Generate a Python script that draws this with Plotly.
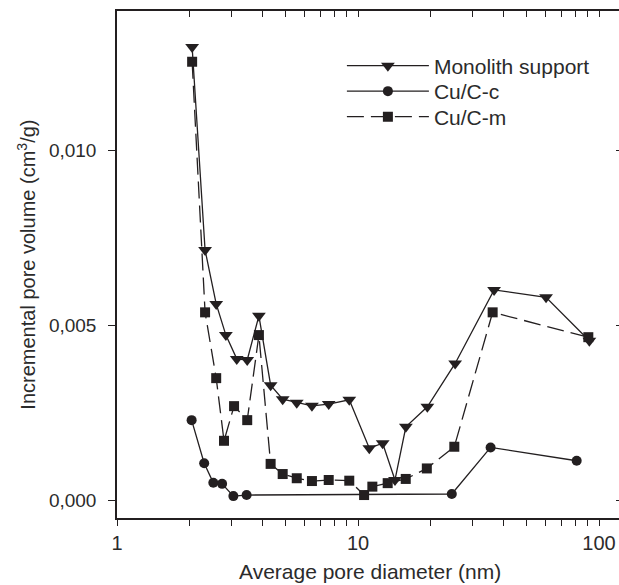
import plotly.graph_objects as go

# Monolith support
mono_x = [2.05, 2.32, 2.58, 2.83, 3.14, 3.47, 3.88, 4.34, 4.87, 5.57, 6.44, 7.56, 9.2,
          11.14, 12.66, 14.24, 15.8, 19.4, 25.3, 36.7, 60.3, 91.2]
mono_y = [0.01295, 0.00715, 0.00561, 0.00472, 0.00404, 0.00401, 0.00527, 0.00329, 0.00289,
          0.00279, 0.00270, 0.00275, 0.00287, 0.00149, 0.00163, 0.00058, 0.00210, 0.00267,
          0.00391, 0.00601, 0.00580, 0.00456]

# Cu/C-c
cuc_x = [2.04, 2.30, 2.51, 2.73, 3.04, 3.45, 24.5, 35.5, 80.8]
cuc_y = [0.00229, 0.00106, 0.00050, 0.00047, 0.00012, 0.00015, 0.00018, 0.00151, 0.00113]

# Cu/C-m
cum_x = [2.05, 2.32, 2.58, 2.78, 3.06, 3.47, 3.88, 4.34, 4.87, 5.57, 6.44, 7.56, 9.2,
         10.6, 11.47, 13.28, 15.78, 19.3, 25.1, 36.2, 90.3]
cum_y = [0.01253, 0.00537, 0.00349, 0.00170, 0.00269, 0.00229, 0.00472, 0.00104, 0.00075,
         0.00063, 0.00055, 0.00058, 0.00056, 0.00015, 0.00039, 0.00049, 0.00061, 0.00091,
         0.00153, 0.00537, 0.00466]

x_major = [1, 10, 100]
x_labels = ["1", "10", "100"]
x_minor = [2, 3, 4, 5, 6, 7, 8, 9, 20, 30, 40, 50, 60, 70, 80, 90]
y_tickvals = [0.0, 0.005, 0.010]

INK = "#231f20"
TXT = "#2b2b2b"
FONT = "Liberation Sans"

fig = go.Figure()
fig.add_trace(go.Scatter(x=mono_x, y=mono_y, name="Monolith support", mode="lines+markers",
                         line=dict(color=INK, width=1.3), legend="legend",
                         marker=dict(symbol="triangle-down", size=12, color=INK)))
fig.add_trace(go.Scatter(x=cuc_x, y=cuc_y, name="Cu/C-c", mode="lines+markers",
                         line=dict(color=INK, width=1.3), legend="legend2",
                         marker=dict(symbol="circle", size=10, color=INK)))
fig.add_trace(go.Scatter(x=cum_x, y=cum_y, name="Cu/C-m", mode="lines+markers",
                         line=dict(color=INK, width=1.3, dash="17px,7px"), legend="legend3",
                         marker=dict(symbol="square", size=10, color=INK)))
# empty trace to activate the mirrored (top/right) axes
fig.add_trace(go.Scatter(x=[], y=[], xaxis="x2", yaxis="y2", showlegend=False,
                         hoverinfo="skip"))

xr = [0, 2.083]
yr = [-0.000506, 0.01398]

leg_common = dict(x=0.448, xanchor="left", yanchor="top", bgcolor="rgba(0,0,0,0)",
                  font=dict(size=21, color=TXT), itemwidth=82)

fig.update_layout(
    width=619, height=585,
    margin=dict(l=117, r=0, t=11, b=67),
    paper_bgcolor="white", plot_bgcolor="white",
    separators=",.",
    font=dict(family=FONT, size=20, color=TXT),
    showlegend=True,
    legend=dict(y=0.932, **leg_common),
    legend2=dict(y=0.8817, **leg_common),
    legend3=dict(y=0.8314, **leg_common),
    xaxis=dict(type="log", range=xr, tickmode="array", tickvals=x_major,
               ticktext=x_labels, ticks="outside", ticklen=6, tickwidth=1.2,
               tickcolor=INK, showline=True, linecolor=INK, linewidth=1.5,
               showgrid=False, zeroline=False, tickfont=dict(size=20),
               minor=dict(tickmode="array", tickvals=x_minor, ticks="outside",
                          ticklen=6, tickwidth=1.2, tickcolor=INK, showgrid=False)),
    yaxis=dict(range=yr, tickmode="array", tickvals=y_tickvals, tickformat=".3f",
               ticks="outside", ticklen=7, tickwidth=1.2, tickcolor=INK,
               showline=True, linecolor=INK, linewidth=1.5, showgrid=False,
               zeroline=False, tickfont=dict(size=19), ticklabelstandoff=8),
    xaxis2=dict(type="log", range=xr, overlaying="x", side="top", anchor="y",
                tickmode="array", tickvals=x_major, showticklabels=False,
                ticks="inside", ticklen=6, tickwidth=1.2, tickcolor=INK,
                showline=True, linecolor=INK, linewidth=1.5, showgrid=False,
                zeroline=False,
                minor=dict(tickmode="array", tickvals=x_minor, ticks="inside",
                           ticklen=6, tickwidth=1.2, tickcolor=INK, showgrid=False)),
    yaxis2=dict(range=yr, overlaying="y", side="right", anchor="x",
                tickmode="array", tickvals=y_tickvals, showticklabels=False,
                ticks="inside", ticklen=3, tickwidth=1.2, tickcolor=INK,
                showline=False, showgrid=False, zeroline=False),
    annotations=[
        dict(text="Average pore diameter (nm)", xref="paper", yref="paper",
             x=0.504, y=-0.1065, xanchor="center", yanchor="middle",
             showarrow=False, font=dict(size=21, color=TXT)),
        dict(text="Incremental pore volume (cm<sup>3</sup>/g)", xref="paper",
             yref="paper", x=-0.181, y=0.5, xanchor="center", yanchor="middle",
             textangle=-90, showarrow=False, font=dict(size=20, color=TXT)),
    ],
)

fig.write_html("out.html")
